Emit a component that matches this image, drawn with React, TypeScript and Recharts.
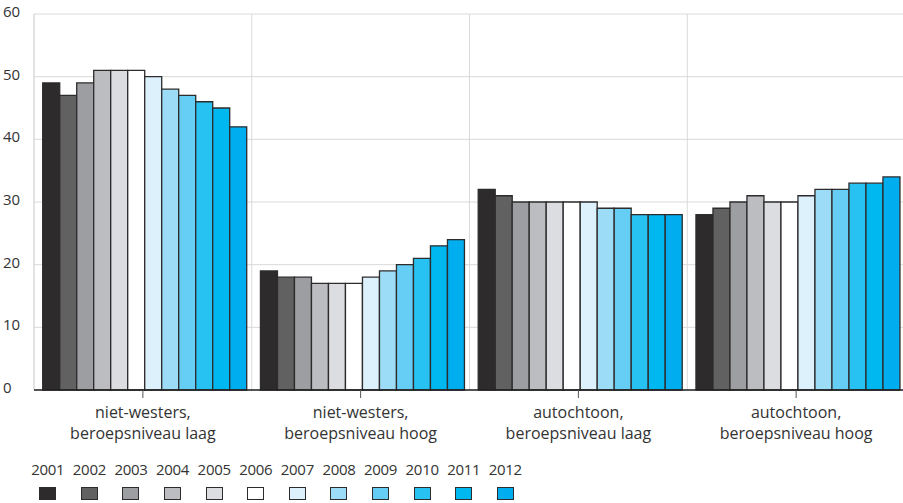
import React from 'react';
import { BarChart, Bar, XAxis, YAxis, CartesianGrid } from 'recharts';

const years = ['2001', '2002', '2003', '2004', '2005', '2006', '2007', '2008', '2009', '2010', '2011', '2012'];
const colors = ['#2d2b2c', '#616162', '#9d9ea1', '#bcbdc0', '#dcdde0', '#ffffff', '#dcf1fc', '#9ddcf7', '#66cdf4', '#27c2f1', '#00b8f0', '#00aeef'];

const categories = [
  ['niet-westers,', 'beroepsniveau laag'],
  ['niet-westers,', 'beroepsniveau hoog'],
  ['autochtoon,', 'beroepsniveau laag'],
  ['autochtoon,', 'beroepsniveau hoog'],
];

const nwLaag = [49, 47, 49, 51, 51, 51, 50, 48, 47, 46, 45, 42];
const nwHoog = [19, 18, 18, 17, 17, 17, 18, 19, 20, 21, 23, 24];
const autLaag = [32, 31, 30, 30, 30, 30, 30, 29, 29, 28, 28, 28];
const autHoog = [28, 29, 30, 31, 30, 30, 31, 32, 32, 33, 33, 34];

const yTicks = [0, 10, 20, 30, 40, 50, 60];

const seriesByCategory = [nwLaag, nwHoog, autLaag, autHoog];

const data = categories.map((lines, i) => {
  const row: Record<string, any> = { name: lines.join('\n') };
  years.forEach((y, j) => {
    row['y' + y] = seriesByCategory[i][j];
  });
  return row;
});

const font = '"Open Sans", sans-serif';

const CategoryTick = (props: any) => {
  const { x, y, payload } = props;
  const lines = String(payload.value).split('\n');
  return (
    <g>
      {lines.map((l: string, i: number) => (
        <text key={i} x={x} y={y + 18 + i * 21} textAnchor="middle" fontSize={16} fill="#333" fontFamily={font}>
          {l}
        </text>
      ))}
    </g>
  );
};

const ValueTick = (props: any) => {
  const { y, payload } = props;
  return (
    <text x={3} y={y + 3} textAnchor="start" fontSize={15} fill="#333" fontFamily={font}>
      {payload.value}
    </text>
  );
};

const App: React.FC = () => {
  const W = 905;
  const H = 503;
  return (
    <div style={{ position: 'absolute', left: 0, top: 0, width: 903, height: H, overflow: 'hidden', background: '#fff' }}>
      <BarChart
        width={W}
        height={H}
        data={data}
        margin={{ top: 14, right: 0, left: 0, bottom: 53 }}
        barCategoryGap="4%"
        barGap={0}
      >
        <CartesianGrid
          stroke="#d9d9d9"
          strokeWidth={1}
          verticalCoordinatesGenerator={({ offset }: any) =>
            categories.map((_, i) => offset.left + ((i + 1) * offset.width) / categories.length)
          }
        />
        <YAxis
          domain={[0, 60]}
          ticks={yTicks}
          width={34}
          axisLine={{ stroke: '#c8c8c8' }}
          tickLine={false}
          tick={<ValueTick />}
          interval={0}
        />
        <XAxis
          dataKey="name"
          height={60}
          axisLine={{ stroke: '#222', strokeWidth: 1.3 }}
          tickLine={{ stroke: '#555' }}
          tickSize={8}
          tick={<CategoryTick />}
          interval={0}
        />
        {years.map((y, j) => (
          <Bar
            key={y}
            dataKey={'y' + y}
            fill={colors[j]}
            stroke="#2d2b2c"
            strokeWidth={1.3}
            isAnimationActive={false}
          />
        ))}
      </BarChart>
      <div style={{ position: 'absolute', left: 27, top: 460, display: 'flex', fontFamily: font }}>
        {years.map((y, j) => (
          <div key={y} style={{ width: 41.6, display: 'flex', flexDirection: 'column', alignItems: 'center' }}>
            <div style={{ fontSize: 15, color: '#333', lineHeight: '18px', letterSpacing: -0.3 }}>{y}</div>
            <div
              style={{
                marginTop: 9,
                width: 15,
                height: 11,
                background: colors[j],
                border: '1px solid #2d2b2c',
              }}
            />
          </div>
        ))}
      </div>
    </div>
  );
};

export default App;
